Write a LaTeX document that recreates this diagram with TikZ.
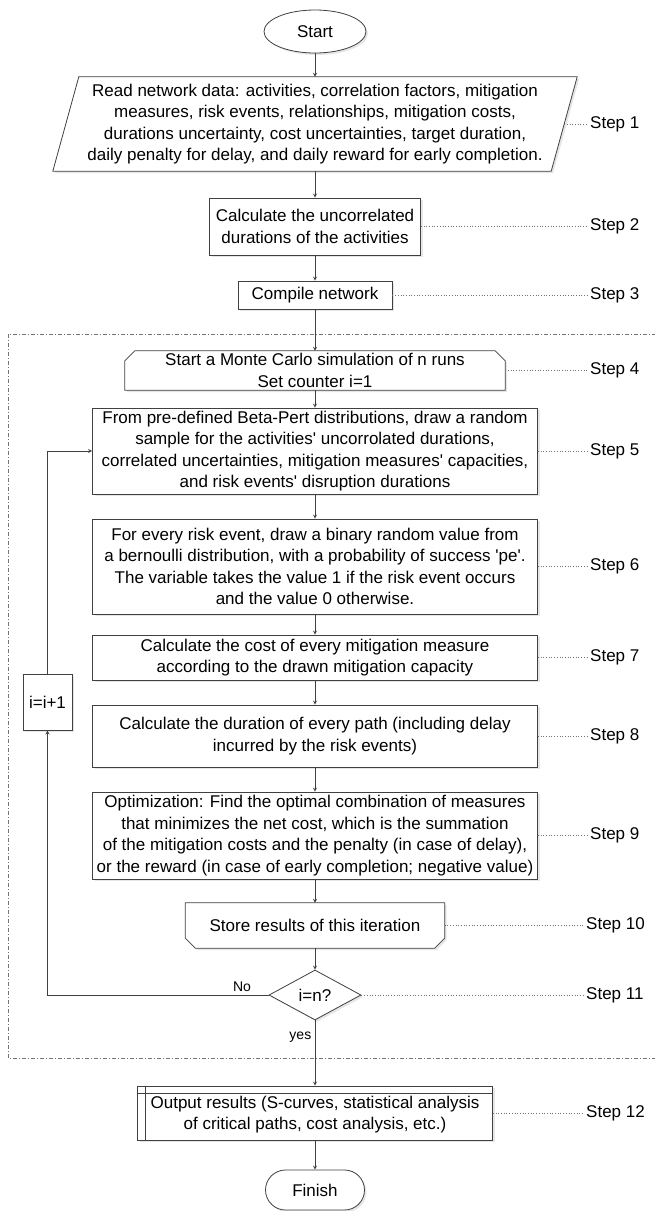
\documentclass[tikz,border=0pt]{standalone}
\usepackage{fontspec}
\setmainfont{Liberation Sans}
\usetikzlibrary{arrows}
\usetikzlibrary{calc}
\usetikzlibrary{positioning}
\usetikzlibrary{shapes.geometric,shapes.misc}
\usetikzlibrary{shadows,backgrounds}
\newcommand{\sq}{\textquotesingle}

\begin{document}
\begin{tikzpicture}[x=1pt,y=-1pt,>=stealth,
		font=\fontsize{17}{21.5}\selectfont,
		line/.style={draw=black!75,line width=0.8pt},
		shade/.style={drop shadow={shadow xshift=2pt,shadow yshift=-2pt,opacity=0.2}},
		stepbox/.style={line,shade,fill=white,rectangle,align=center,inner sep=0pt},
		plainbox/.style={rectangle,align=center,inner sep=0pt},
		steplabel/.style={anchor=west,inner sep=3pt},
		leader/.style={draw=black!55,dotted,line width=0.7pt},
		conn/.style={line,->},
		smalltext/.style={font=\fontsize{14}{16}\selectfont}]
		\useasboundingbox (0,0) rectangle (654,1211);
		\draw[draw=black!55,line width=0.6pt,dash pattern=on 4pt off 2pt on 1pt off 2pt] (8,334) rectangle (670,1058);
		\path
		(315,31.5) node[stepbox,ellipse,minimum width=102pt,minimum height=43pt](start) {Start}
		(315,124) node[plainbox,minimum width=498pt,minimum height=94pt](read) {Read network data: activities, correlation factors, mitigation\\ measures, risk events, relationships, mitigation costs,\\ durations uncertainty, cost uncertainties, target duration,\\ daily penalty for delay, and daily reward for early completion.}
		(315,226.5) node[stepbox,minimum width=211pt,minimum height=57pt](calc) {Calculate the uncorrelated\\ durations of the activities}
		(315,295) node[stepbox,minimum width=154pt,minimum height=28pt](comp) {Compile network}
		(315,370.5) node[plainbox,minimum width=380pt,minimum height=39pt](mc) {Start a Monte Carlo simulation of n runs\\ Set counter i=1}
		(315,451) node[stepbox,minimum width=445pt,minimum height=86pt](beta) {From pre-defined Beta-Pert distributions, draw a random\\ sample for the activities\sq{} uncorrolated durations,\\ correlated uncertainties, mitigation measures\sq{} capacities,\\ and risk events\sq{} disruption durations}
		(315,566.5) node[stepbox,minimum width=445pt,minimum height=95pt](risk) {For every risk event, draw a binary random value from\\ a bernoulli distribution, with a probability of success \sq pe\sq.\\ The variable takes the value 1 if the risk event occurs\\ and the value 0 otherwise.}
		(315,657.5) node[stepbox,minimum width=445pt,minimum height=45pt](cost) {Calculate the cost of every mitigation measure\\ according to the drawn mitigation capacity}
		(315,736) node[stepbox,minimum width=445pt,minimum height=62pt](dur) {Calculate the duration of every path (including delay\\ incurred by the risk events)}
		(315,835.5) node[stepbox,minimum width=445pt,minimum height=87pt](opt) {Optimization: Find the optimal combination of measures\\ that minimizes the net cost, which is the summation\\ of the mitigation costs and the penalty (in case of delay),\\ or the reward (in case of early completion; negative value)}
		(315,925.5) node[plainbox,minimum width=259pt,minimum height=45pt](store) {Store results of this iteration}
		(315,995) node[stepbox,diamond,minimum width=92pt,minimum height=50pt](check) {i=n?}
		(315,1113) node[stepbox,minimum width=355pt,minimum height=54pt](out) {\strut Output results (S-curves, statistical analysis\\ of critical paths, cost analysis, etc.)}
		(315,1190) node[stepbox,rounded rectangle,minimum width=99pt,minimum height=40pt](finish) {Finish}
		(47.5,702) node[stepbox,minimum width=49pt,minimum height=56pt](inc) {i=i+1};
		\begin{scope}[on background layer]
		\draw[line,shade,fill=white] ($(read.north west)+(13,0)$) -- ($(read.north east)+(13,0)$) -- ($(read.south east)+(-13,0)$) -- ($(read.south west)+(-13,0)$) -- cycle;
		\draw[line,shade,fill=white] (mc.south west) -- ($(mc.north west)+(0,10)$) -- ($(mc.north west)+(10,0)$) -- ($(mc.north east)+(-10,0)$) -- ($(mc.north east)+(0,10)$) -- (mc.south east) -- cycle;
		\draw[line,shade,fill=white] (store.north west) -- ($(store.south west)+(0,-10)$) -- ($(store.south west)+(10,0)$) -- ($(store.south east)+(-10,0)$) -- ($(store.south east)+(0,-10)$) -- (store.north east) -- cycle;
		\end{scope}
		\draw[line] ($(out.north west)+(0,8)$) -- ($(out.north east)+(0,8)$);
		\draw[line] ($(out.north west)+(8,0)$) -- ($(out.south west)+(8,0)$);
		\path
		(587,124) node[steplabel](s1) {Step 1}
		(587,226.5) node[steplabel](s2) {Step 2}
		(587,295) node[steplabel](s3) {Step 3}
		(587,370.5) node[steplabel](s4) {Step 4}
		(587,451) node[steplabel](s5) {Step 5}
		(587,566.5) node[steplabel](s6) {Step 6}
		(587,657.5) node[steplabel](s7) {Step 7}
		(587,736) node[steplabel](s8) {Step 8}
		(587,835.5) node[steplabel](s9) {Step 9}
		(583,925.5) node[steplabel](s10) {Step 10}
		(583,995) node[steplabel](s11) {Step 11}
		(583,1113) node[steplabel](s12) {Step 12};
		\draw[leader] (read.east) -- (s1);
		\draw[leader] (calc) -- (s2);
		\draw[leader] (comp) -- (s3);
		\draw[leader] (mc) -- (s4);
		\draw[leader] (beta) -- (s5);
		\draw[leader] (risk) -- (s6);
		\draw[leader] (cost) -- (s7);
		\draw[leader] (dur) -- (s8);
		\draw[leader] (opt) -- (s9);
		\draw[leader] (store) -- (s10);
		\draw[leader] (check) -- (s11);
		\draw[leader] (out) -- (s12);
		\draw[conn] (start) -- (read);
		\draw[conn] (read) -- (calc);
		\draw[conn] (calc) -- (comp);
		\draw[conn] (comp) -- (mc);
		\draw[conn] (mc) -- (beta);
		\draw[conn] (beta) -- (risk);
		\draw[conn] (risk) -- (cost);
		\draw[conn] (cost) -- (dur);
		\draw[conn] (dur) -- (opt);
		\draw[conn] (opt) -- (store);
		\draw[conn] (store) -- (check);
		\draw[conn] (check) -- node[smalltext,left,pos=0.25] {yes} (out);
		\draw[conn] (out) -- (finish);
		\coordinate (nocorner) at (inc |- check);
		\coordinate (backcorner) at (inc |- beta);
		\draw[conn] (check.west) -- node[smalltext,above,pos=0.12] {No} (nocorner) -- (inc.south);
		\draw[conn] (inc.north) -- (backcorner) -- (beta.west);
	\end{tikzpicture}
\end{document}
